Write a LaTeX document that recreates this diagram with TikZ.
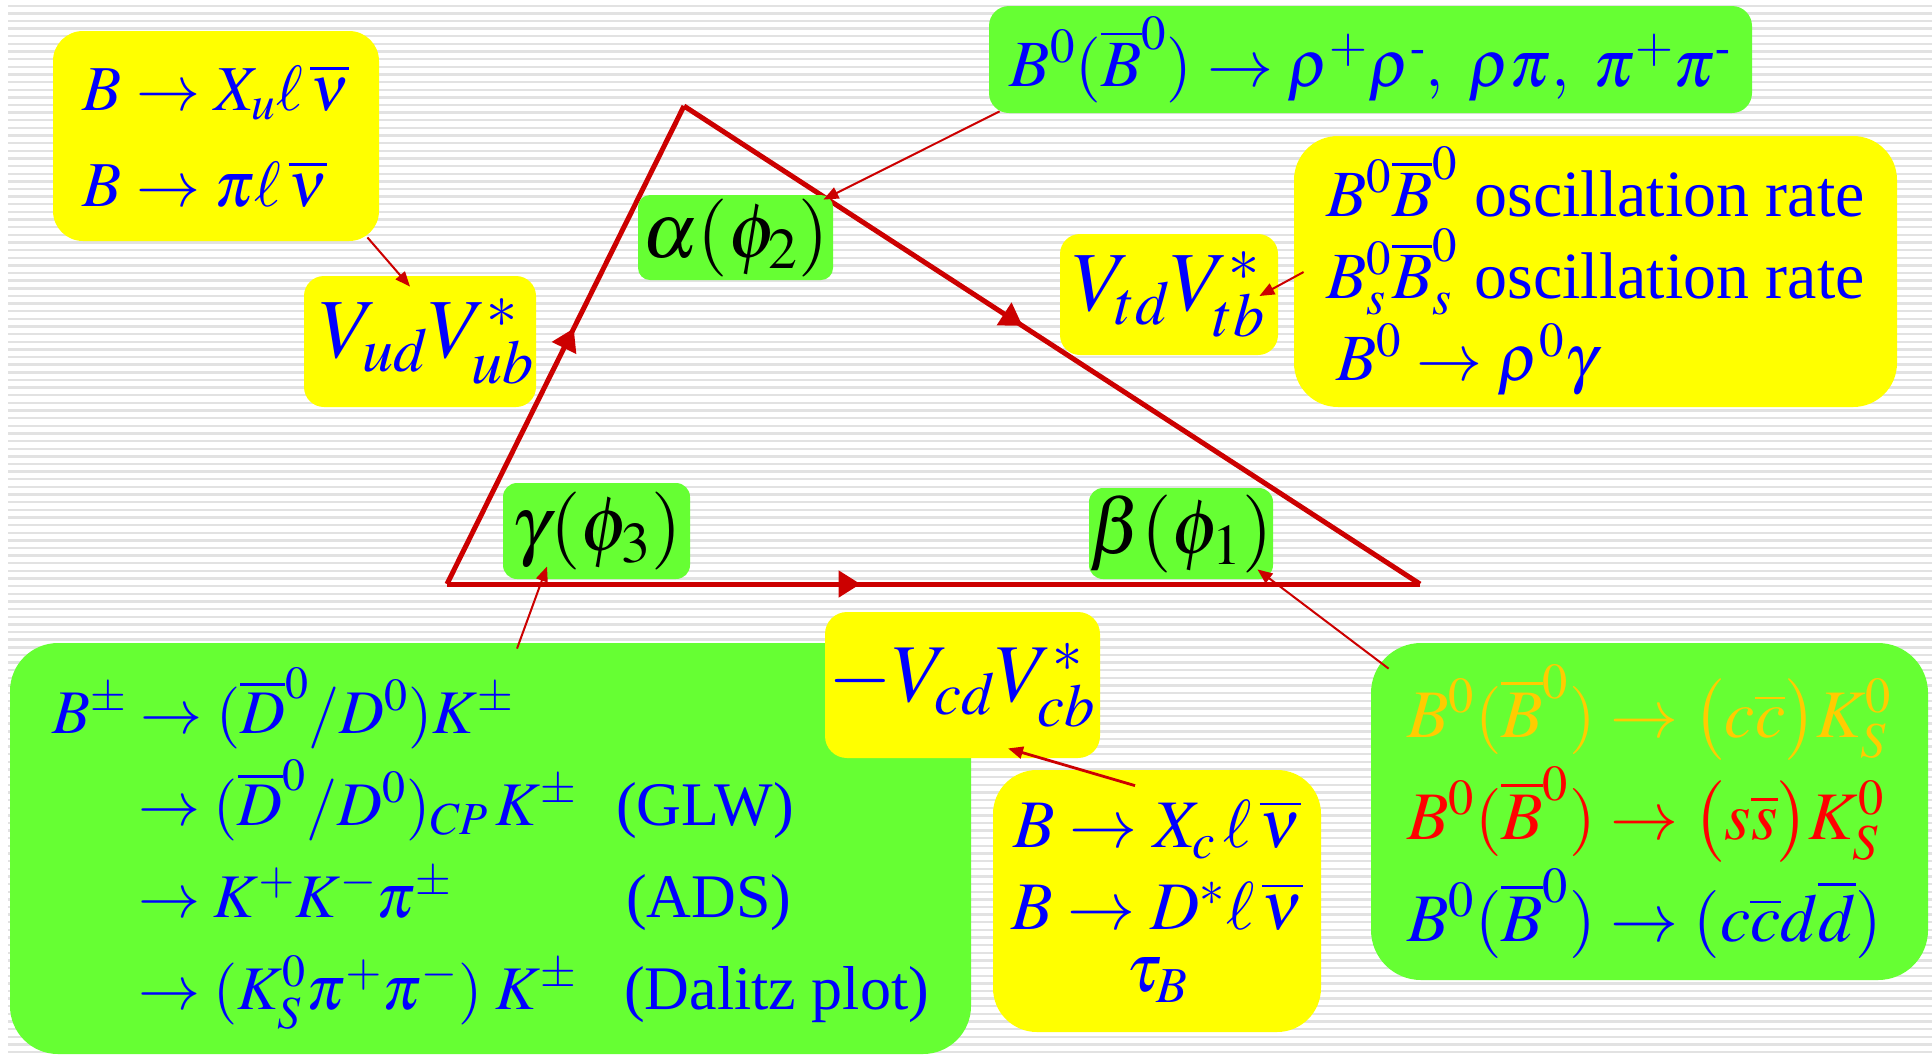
\documentclass[tikz,border=0pt]{standalone}
\usepackage{mathptmx}
\usepackage{fontspec}
\setmainfont{Liberation Serif}
\usetikzlibrary{arrows.meta,calc,decorations.markings}

\definecolor{boxgreen}{HTML}{66FF33}
\definecolor{boxyellow}{HTML}{FFFF00}
\definecolor{trired}{HTML}{CC0000}
\definecolor{txtblue}{HTML}{0000FF}
\definecolor{txtgold}{HTML}{FFCC00}
\definecolor{stripegray}{HTML}{E2E2E2}

\newcommand{\setfs}[2]{\fontsize{#1}{#2}\selectfont}
\newcommand{\hyph}{\hbox{\setfs{22}{22}-}}

\tikzset{
  card/.style={rounded corners=#1, inner sep=0pt, text=txtblue},
  ycard/.style={card=#1, fill=boxyellow},
  gcard/.style={card=#1, fill=boxgreen},
  side/.style={trired, line width=2.5pt},
  midarrow/.style={postaction={decorate,decoration={markings,
      mark=at position #1 with {\arrow[trired]{Triangle[length=11pt,width=13pt]}}}}},
  ptr/.style={trired, line width=1pt, -{Triangle[length=7.5pt,width=6pt]}}
}

\begin{document}
\begin{tikzpicture}[x=0.5pt,y=-0.5pt]
    \useasboundingbox (0,0) rectangle (1932,1056);
    \fill[white] (0,0) rectangle (1932,1056);
    \foreach \i in {0,...,137}
        \fill[stripegray] (8,{4.5+7.638*\i}) rectangle ++(1924,2.4);

    % unitarity triangle
    \coordinate (A) at (447,584);
    \coordinate (T) at (684,106);
    \coordinate (R) at (1420,584);
    \draw[side, midarrow=0.535] (A) -- (T);
    \draw[side, midarrow=0.46] (T) -- (R);
    \draw[side, midarrow=0.425] (A) -- (R);

    % sides and angles
    \node[ycard=15pt, minimum width=163pt, minimum height=105pt, align=left, font=\setfs{32}{48}]
        (xu) at (216,136) {$B\to X_u\ell\,\overline{\nu}$\\$B\to\pi\ell\,\overline{\nu}$};
    \node[ycard=10pt, minimum width=116pt, minimum height=65.5pt, font=\setfs{42}{50}]
        (vud) at (420,341.5) {\,$V_{ud}V^{*}_{ub}$};
    \node[gcard=10pt, minimum width=381.5pt, minimum height=53.5pt, font=\setfs{33}{40}]
        (rho) at (1370.5,59.5) {$B^0(\overline{B}^0)\to\rho^+\rho^{\hyph},\ \rho\pi,\ \pi^+\pi^{\hyph}$};
    \node[gcard=6pt, minimum width=97.5pt, minimum height=42.5pt, text=black, font=\setfs{39}{44}]
        (alpha) at (735.5,237.5) {$\alpha(\phi_2)$};
    \node[ycard=10pt, minimum width=109pt, minimum height=60.5pt, font=\setfs{42}{50}]
        (vtd) at (1169,294.5) {$V_{td}V^{*}_{tb}$};
    \node[ycard=22pt, minimum width=301.5pt, minimum height=135.5pt, align=left, font=\setfs{33}{41}]
        (osc) at (1595.5,271.5) {$B^0\overline{B}^0$ oscillation rate\\
            $B^0_s\overline{B}^0_s$ oscillation rate\\
            \hspace*{5pt}$B^0\to\rho^0\gamma$\rule[-8pt]{0pt}{0pt}};
    \node[gcard=7pt, minimum width=93.5pt, minimum height=48pt, text=black, font=\setfs{39}{44}]
        (gamma) at (596.5,531) {$\gamma(\phi_3)$};
    \node[gcard=7pt, minimum width=92pt, minimum height=45.5pt, text=black, font=\setfs{39}{44}]
        (beta) at (1181,533.5) {$\beta(\phi_1)$};

    % measurements
    \node[gcard=24pt, minimum width=480.5pt, minimum height=205.5pt, align=left, font=\setfs{31}{46}]
        (dk) at (490.5,848.5) {%
        \makebox[282pt][l]{$B^\pm\to(\overline{D}^0/D^0)K^\pm$}\rule{0pt}{12pt}\\
        \makebox[282pt][l]{\hspace*{43pt}$\to(\overline{D}^0/D^0)_{CP}\,K^\pm$}(GLW)\\
        \makebox[282pt][l]{\hspace*{43pt}$\to K^+K^-\pi^\pm$}\hspace*{5pt}(ADS)\\
        \makebox[282pt][l]{\hspace*{43pt}$\to(K^0_S\pi^+\pi^-)\;K^\pm$}\hspace*{4pt}(Dalitz plot)};
    \node[ycard=11pt, minimum width=137.5pt, minimum height=73pt, font=\setfs{41}{50}]
        (vcd) at (962.5,685) {$-V_{cd}V^{*}_{cb}$};
    \node[ycard=22pt, minimum width=164pt, minimum height=131pt, align=center, font=\setfs{34}{41}]
        (xc) at (1157,901) {$B\to X_c\,\ell\,\overline{\nu}$\\$B\to D^{*}\ell\,\overline{\nu}$\\[-10pt]$\tau_B$};
    \node[gcard=25pt, minimum width=278.5pt, minimum height=168.5pt, align=left, font=\setfs{34}{51}]
        (ccs) at (1649.5,811.5) {%
        {\color{txtgold}$B^0(\overline{B}^0)\to\bigl(c\overline{c}\bigr)K^0_S$}\\
        {\color{red}$B^0(\overline{B}^0)\to\bigl(s\overline{s}\bigr)K^0_S$}\\
        $B^0(\overline{B}^0)\to(c\overline{c}d\overline{d})$};

    % pointers
    \draw[ptr] ($(xu.south east)+(-12,-4)$) -- ($(vud.north)+(-10,11)$);
    \draw[ptr] ($(rho.south west)+(11,-2)$) -- ($(alpha.north east)+(-10,5)$);
    \draw[ptr] ($(osc.west)+(10,0.5)$) -- ($(vtd.east)+(-19,1.5)$);
    \draw[ptr] ($(dk.north)+(26.5,6)$) -- ($(gamma.south)+(-49.5,-13)$);
    \draw[ptr] ($(ccs.north west)+(18,26)$) -- ($(beta.south east)+(-16,-10)$);
    \draw[ptr, line width=1.4pt] ($(xc.north)+(-22,16)$) -- ($(vcd.south)+(45.5,-10)$);
\end{tikzpicture}
\end{document}
